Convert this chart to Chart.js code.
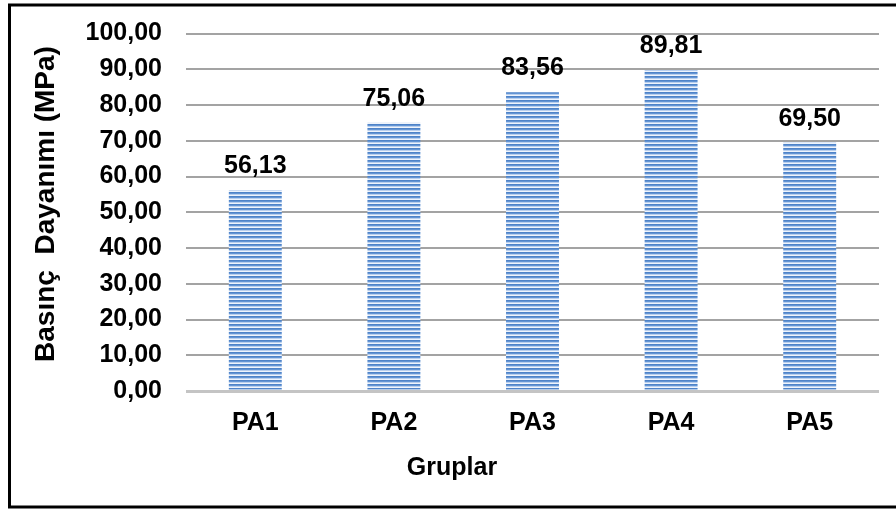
<!DOCTYPE html>
<html>
<head>
<meta charset="utf-8">
<script src="https://cdn.jsdelivr.net/npm/chart.js@4.4.1/dist/chart.umd.min.js"></script>
<style>
  html, body { margin: 0; padding: 0; background: #fff; }
  canvas { display: block; }
</style>
</head>
<body>
<canvas id="c" width="896" height="511"></canvas>
<script>
const categories = ['PA1', 'PA2', 'PA3', 'PA4', 'PA5'];
const values = [56.13, 75.06, 83.56, 89.81, 69.50];
const yTicks = [0, 10, 20, 30, 40, 50, 60, 70, 80, 90, 100];
const yTitle = 'Basınç  Dayanımı (MPa)';
const xTitle = 'Gruplar';

const fmt = v => v.toFixed(2).replace('.', ',');
const FONT = "'Liberation Sans', Arial, sans-serif";

// striped fill
function makePattern() {
  const pc = document.createElement('canvas');
  pc.width = 1; pc.height = 4;
  const g = pc.getContext('2d');
  const rows = ['#4f83c8', '#6395d4', '#b9cfee', '#eef4fc'];
  rows.forEach((c, i) => { g.fillStyle = c; g.fillRect(0, i, 1, 1); });
  return g.createPattern(pc, 'repeat');
}
const ctx0 = document.getElementById('c').getContext('2d');
const pattern = makePattern();

const frame = {
  id: 'frame',
  afterDraw(chart) {
    const c = chart.ctx;
    c.save();
    c.strokeStyle = '#000';
    c.lineWidth = 3;
    c.strokeRect(9.5, 5, 900, 502);
    c.restore();
  }
};

const axisTitles = {
  id: 'axisTitles',
  afterDraw(chart) {
    const c = chart.ctx;
    c.save();
    c.fillStyle = '#000';
    c.textAlign = 'center';
    c.textBaseline = 'middle';
    c.font = 'bold 25px ' + FONT;
    c.fillText(xTitle, chart.width / 2 + 4, 468);
    c.translate(46, 204);
    c.rotate(-Math.PI / 2);
    c.font = 'bold 28px ' + FONT;
    c.fillText(yTitle, 0, 0);
    c.restore();
  }
};

const dataLabels = {
  id: 'dataLabels',
  afterDatasetsDraw(chart) {
    const c = chart.ctx;
    const meta = chart.getDatasetMeta(0);
    c.save();
    c.fillStyle = '#000';
    c.font = 'bold 25px ' + FONT;
    c.textAlign = 'center';
    c.textBaseline = 'alphabetic';
    meta.data.forEach((bar, i) => {
      c.fillText(fmt(values[i]), bar.x, bar.y - 17);
    });
    c.restore();
  }
};

new Chart(ctx0, {
  type: 'bar',
  data: {
    labels: categories,
    datasets: [{
      data: values,
      backgroundColor: pattern,
      borderWidth: 0,
      categoryPercentage: 1,
      barPercentage: 0.382
    }]
  },
  options: {
    responsive: false,
    animation: false,
    devicePixelRatio: 1,
    layout: { padding: { top: 33.5, right: 17, left: 0, bottom: 0 } },
    plugins: { legend: { display: false }, tooltip: { enabled: false } },
    scales: {
      x: {
        grid: { display: false, drawTicks: false },
        border: { display: false },
        ticks: {
          color: '#000',
          font: { family: FONT, size: 25, weight: 'bold' },
          padding: 17
        },
        afterFit(s) { s.height = 120; s.paddingLeft = 0; s.paddingRight = 0; }
      },
      y: {
        min: 0,
        max: 100,
        afterBuildTicks(s) { s.ticks = yTicks.map(v => ({ value: v })); },
        grid: {
          drawTicks: false,
          color: ctx => ctx.tick && ctx.tick.value === 0 ? '#c4c4c4' : '#a3a3a3',
          lineWidth: ctx => ctx.tick && ctx.tick.value === 0 ? 3 : 2
        },
        border: { display: false },
        ticks: {
          color: '#000',
          font: { family: FONT, size: 25, weight: 'bold' },
          padding: 24,
          callback: v => fmt(v)
        },
        afterFit(s) { s.width = 186; s.paddingTop = 0; s.paddingBottom = 0; }
      }
    }
  },
  plugins: [frame, dataLabels, axisTitles]
});
</script>
</body>
</html>
